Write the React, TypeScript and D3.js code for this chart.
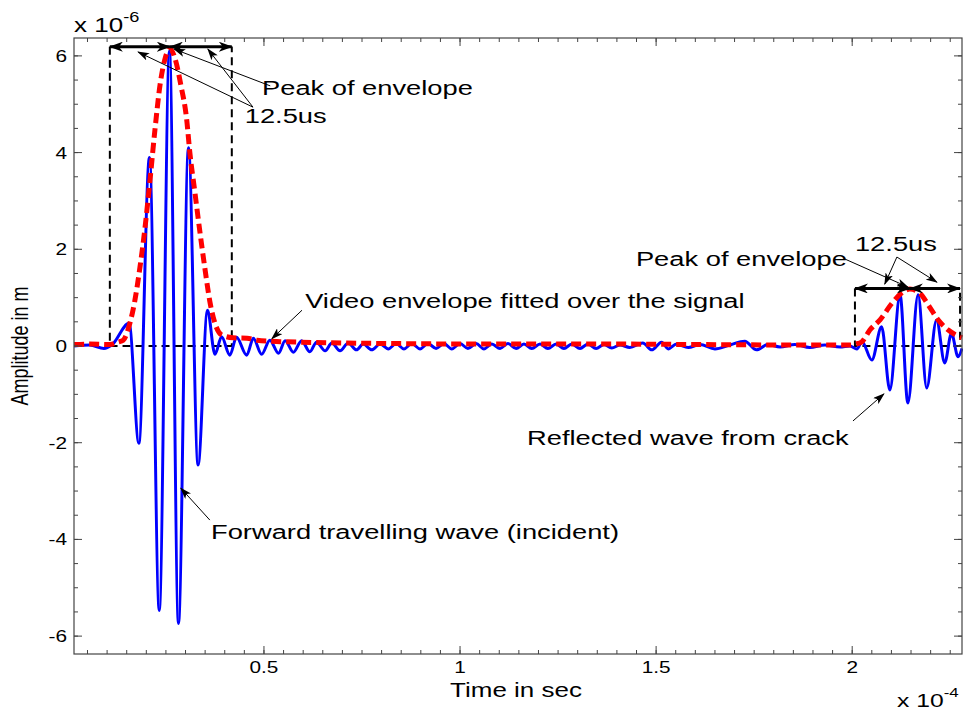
import React from 'react';
import * as d3 from 'd3';

const W = 963;
const H = 713;

// time in units of 1e-4 s, amplitude in units of 1e-6 m
const signalTime = [
  0.016, 0.056, 0.092, 0.112, 0.156, 0.181, 0.208, 0.233, 0.259, 0.282, 0.3075, 0.332, 0.356, 0.375,
  0.392, 0.413, 0.430, 0.456, 0.473, 0.494, 0.515, 0.537, 0.554, 0.575, 0.596, 0.617, 0.634, 0.656,
  0.673, 0.694, 0.715, 0.736, 0.753, 0.775, 0.796, 0.817, 0.837, 0.857, 0.877, 0.898, 0.918, 0.939,
  0.959, 0.979, 1.000, 1.020, 1.041, 1.061, 1.081, 1.102, 1.122, 1.143, 1.163, 1.183, 1.204, 1.224,
  1.245, 1.265, 1.285, 1.306, 1.326, 1.347, 1.367, 1.387, 1.408, 1.433, 1.466, 1.489, 1.514, 1.531,
  1.552, 1.582, 1.612, 1.650, 1.688, 1.726, 1.756, 1.785, 1.816, 1.854, 1.892, 1.930, 1.969, 1.994,
  2.012, 2.025, 2.050, 2.075, 2.096, 2.122, 2.142, 2.168, 2.190, 2.215, 2.236, 2.253, 2.270, 2.280,
];
const signalAmp = [
  0.0, 0.02, -0.05, 0.02, 0.47, -2.01, 3.9, -5.47, 6.1, -5.74, 4.1, -2.46, 0.74, -0.17,
  0.19, -0.19, 0.18, -0.19, 0.16, -0.17, 0.12, -0.15, 0.11, -0.13, 0.11, -0.12, 0.08, -0.10,
  0.06, -0.10, 0.06, -0.08, 0.04, -0.08, 0.04, -0.06, 0.05, -0.06, 0.05, -0.06, 0.05, -0.05,
  0.05, -0.06, 0.05, -0.05, 0.05, -0.06, 0.04, -0.05, 0.05, -0.05, 0.04, -0.05, 0.04, -0.05,
  0.04, -0.05, 0.04, -0.05, 0.04, -0.05, 0.03, -0.04, 0.02, -0.03, 0.06, -0.08, 0.08, -0.06,
  0.04, -0.03, 0.03, -0.06, 0.02, 0.10, -0.08, 0.03, -0.02, 0.03, -0.03, 0.02, -0.02, 0.0,
  -0.06, 0.09, -0.29, 0.40, -0.91, 1.06, -1.18, 1.06, -0.87, 0.54, -0.35, 0.26, -0.22, -0.05,
];

const envTime = [
  0.016, 0.056, 0.107, 0.128, 0.141, 0.158, 0.171, 0.184, 0.197, 0.2095, 0.222, 0.235, 0.248, 0.260,
  0.273, 0.288, 0.303, 0.311, 0.324, 0.337, 0.350, 0.362, 0.375, 0.392, 0.421, 0.457, 0.482, 0.541,
  0.592, 0.712, 0.847, 1.025, 1.229, 1.408, 1.612, 1.867, 1.994, 2.009, 2.025, 2.045, 2.071, 2.101,
  2.130, 2.147, 2.173, 2.194, 2.219, 2.245, 2.280,
];
const envAmp = [
  0.03, 0.04, 0.03, 0.08, 0.12, 0.47, 0.95, 1.64, 2.47, 3.44, 4.47, 5.4, 5.95, 6.15,
  5.95, 5.4, 4.68, 4.0, 3.17, 2.34, 1.57, 0.92, 0.47, 0.23, 0.17, 0.16, 0.12, 0.09,
  0.08, 0.06, 0.05, 0.04, 0.04, 0.04, 0.03, 0.02, 0.02, 0.04, 0.09, 0.33, 0.54, 0.88,
  1.12, 1.18, 1.09, 0.85, 0.54, 0.33, 0.17,
];

const xTickValues = [0.5, 1, 1.5, 2];
const xTickLabels = ['0.5', '1', '1.5', '2'];
const yTickValues = [-6, -4, -2, 0, 2, 4, 6];
const yTickLabels = ['-6', '-4', '-2', '0', '2', '4', '6'];

// dashed windows around the two wave packets: [start, end, top]
const windows = [
  [0.107, 0.418, 6.19],
  [2.007, 2.275, 1.19],
];
// double-headed span arrows: [from, to, level]
const spans = [
  [0.107, 0.26, 6.19],
  [0.26, 0.418, 6.19],
  [2.007, 2.147, 1.19],
  [2.147, 2.275, 1.19],
];
// thin pointer arrows: [t0, a0, t1, a1] (head at t1, a1)
const pointers = [
  [0.516, 5.38, 0.271, 6.14],
  [0.472, 4.94, 0.179, 6.08],
  [0.472, 4.94, 0.357, 6.14],
  [0.597, 0.74, 0.520, 0.15],
  [1.981, 1.80, 2.142, 1.22],
  [2.114, 1.84, 2.083, 1.28],
  [2.114, 1.84, 2.216, 1.32],
  [2.002, -1.55, 2.081, -0.99],
  [0.362, -3.60, 0.288, -2.94],
];
const notes = [
  {t: 0.495, a: 5.19, text: 'Peak of envelope'},
  {t: 0.451, a: 4.61, text: '12.5us'},
  {t: 0.605, a: 0.79, text: 'Video envelope fitted over the signal'},
  {t: 1.4485, a: 1.65, text: 'Peak of envelope'},
  {t: 2.007, a: 1.96, text: '12.5us'},
  {t: 1.171, a: -2.05, text: 'Reflected wave from crack'},
  {t: 0.365, a: -3.99, text: 'Forward travelling wave (incident)'},
];

const font = 'Liberation Sans, Arial, Helvetica, sans-serif';
const SX = 1.3; // the figure's lettering is stretched sideways

const Label = ({x, y, size, anchor = 'start', rotate = 0, children}: any) => (
  <text transform={`translate(${x},${y}) scale(${SX},1)${rotate ? ` rotate(${rotate})` : ''}`}
    fontSize={size} textAnchor={anchor} fill="#000">{children}</text>
);

export default function App() {
  const left = 74, right = 962, top = 38, bottom = 654;
  const x = d3.scaleLinear().domain([0.0156, 2.28]).range([left, right]);
  const y = d3.scaleLinear().domain([-6.37, 6.37]).range([bottom, top]);

  const line = d3.line<number>()
    .x((d) => x(signalTime[d]))
    .y((d) => y(signalAmp[d]))
    .curve(d3.curveMonotoneX);
  const envLine = d3.line<number>()
    .x((d) => x(envTime[d]))
    .y((d) => y(envAmp[d]))
    .curve(d3.curveMonotoneX);

  const xMinor = d3.range(1, 46).map((i) => i * 0.05);
  const yMinor = d3.range(-12, 13).map((i) => i * 0.5);

  return (
    <svg width={W} height={H} style={{position: 'absolute', left: 0, top: 0, background: '#fff'}}
      fontFamily={font}>
      <defs>
        <marker id="big" viewBox="0 0 14 10" refX="13" refY="5" markerWidth="14" markerHeight="10"
          markerUnits="userSpaceOnUse" orient="auto-start-reverse">
          <path d="M0,0 L14,5 L0,10 L4,5 z" fill="#000" />
        </marker>
        <marker id="small" viewBox="0 0 12 8" refX="11" refY="4" markerWidth="12" markerHeight="8"
          markerUnits="userSpaceOnUse" orient="auto">
          <path d="M0,0 L12,4 L0,8 L3,4 z" fill="#000" />
        </marker>
      </defs>

      {/* dashed windows */}
      {windows.map(([t0, t1, a], i) => (
        <path key={i}
          d={`M${x(t0)},${y(a)} L${x(t0)},${y(0)} L${x(t1)},${y(0)} L${x(t1)},${y(a)}`}
          fill="none" stroke="#000" strokeWidth={2} strokeDasharray="8,5" />
      ))}

      {/* signal */}
      <path d={line(d3.range(signalTime.length)) || ''} fill="none" stroke="#0000ff" strokeWidth={3} />
      {/* envelope */}
      <path d={envLine(d3.range(envTime.length)) || ''} fill="none" stroke="#ff0000" strokeWidth={5}
        strokeDasharray="10,5" />

      {/* span arrows */}
      {spans.map(([t0, t1, a], i) => (
        <line key={i} x1={x(t0)} x2={x(t1)} y1={y(a)} y2={y(a)} stroke="#000" strokeWidth={3}
          markerStart="url(#big)" markerEnd="url(#big)" />
      ))}
      {/* pointer arrows */}
      {pointers.map(([t0, a0, t1, a1], i) => (
        <line key={i} x1={x(t0)} y1={y(a0)} x2={x(t1)} y2={y(a1)} stroke="#000" strokeWidth={1}
          markerEnd="url(#small)" />
      ))}
      {notes.map((n, i) => (
        <Label key={i} x={x(n.t)} y={y(n.a)} size={21}>{n.text}</Label>
      ))}

      {/* axes box */}
      <rect x={left} y={top} width={right - left} height={bottom - top} fill="none" stroke="#444" strokeWidth={1.2} />
      {xMinor.map((v, i) => (
        <g key={i} stroke="#444" strokeWidth={1}>
          <line x1={x(v)} x2={x(v)} y1={bottom} y2={bottom - 4} />
          <line x1={x(v)} x2={x(v)} y1={top} y2={top + 4} />
        </g>
      ))}
      {xTickValues.map((v, i) => (
        <g key={i}>
          <line x1={x(v)} x2={x(v)} y1={bottom} y2={bottom - 8} stroke="#444" />
          <line x1={x(v)} x2={x(v)} y1={top} y2={top + 8} stroke="#444" />
          <Label x={x(v)} y={bottom + 19} size={16} anchor="middle">{xTickLabels[i]}</Label>
        </g>
      ))}
      {yMinor.map((v, i) => (
        <g key={i} stroke="#444" strokeWidth={1}>
          <line x1={left} x2={left + 4} y1={y(v)} y2={y(v)} />
          <line x1={right} x2={right - 4} y1={y(v)} y2={y(v)} />
        </g>
      ))}
      {yTickValues.map((v, i) => (
        <g key={i}>
          <line x1={left} x2={left + 8} y1={y(v)} y2={y(v)} stroke="#444" />
          <line x1={right} x2={right - 8} y1={y(v)} y2={y(v)} stroke="#444" />
          <Label x={left - 7} y={y(v) + 6} size={16} anchor="end">{yTickLabels[i]}</Label>
        </g>
      ))}

      {/* exponents */}
      <Label x={left} y={top - 6} size={20}>x 10<tspan fontSize={14} dy={-10}>-6</tspan></Label>
      <Label x={897} y={707} size={19}>x 10<tspan fontSize={13} dy={-10}>-4</tspan></Label>

      {/* axis labels */}
      <Label x={(left + right) / 2 - 2} y={697} size={20} anchor="middle">Time in sec</Label>
      <Label x={28} y={y(0)} size={18} anchor="middle" rotate={-90}>Amplitude in m</Label>
    </svg>
  );
}
